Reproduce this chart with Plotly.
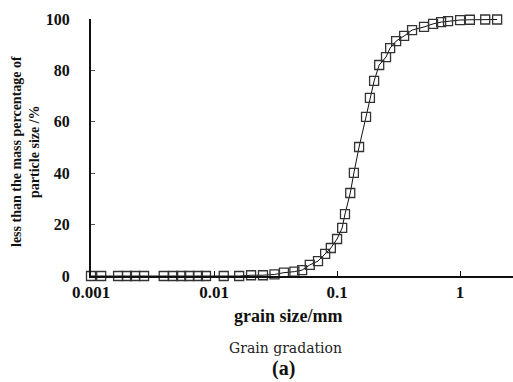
import plotly.graph_objects as go

grain_size_mm = [0.001, 0.00121, 0.00166, 0.00196, 0.00228, 0.0027, 0.0039, 0.00465,
                 0.0054, 0.0063, 0.0074, 0.0086, 0.012, 0.016, 0.020, 0.025, 0.031,
                 0.037, 0.045, 0.052, 0.060, 0.070, 0.080, 0.089, 0.100, 0.110, 0.116,
                 0.128, 0.137, 0.151, 0.172, 0.185, 0.200, 0.220, 0.250, 0.270, 0.302,
                 0.351, 0.407, 0.509, 0.603, 0.701, 0.798, 1.0, 1.2, 1.6, 2.0]
passing_pct = [0, 0, 0, 0, 0, 0, 0, 0,
               0, 0, 0, 0, 0, 0, 0.3, 0.3, 0.6,
               1.3, 1.7, 2.3, 4.3, 5.8, 8.6, 10.9, 14.4, 18.7, 24.1,
               32.3, 40.1, 50.2, 61.9, 69.3, 75.9, 82.1, 85.2, 88.7, 91.4,
               93.4, 95.7, 96.9, 98.1, 98.8, 99.2, 99.6, 99.7, 99.8, 99.8]

x_ticks = [0.001, 0.01, 0.1, 1]
x_tick_labels = ["0.001", "0.01", "0.1", "1"]
y_ticks = [0, 20, 40, 60, 80, 100]

L, T, W, H = 91, 19, 513, 382
B = 276

def px(x):
    return (x - L) / (W - L)

def py(y):
    return (B - y) / (B - T)

fig = go.Figure()
fig.add_trace(go.Scatter(
    x=grain_size_mm, y=passing_pct, mode="lines+markers",
    line=dict(color="#111111", width=1),
    marker=dict(symbol="square-open", size=9, color="#333333", line=dict(width=1.3)),
    cliponaxis=False, showlegend=False,
))

serif = "Liberation Serif, Times New Roman, serif"
fig.update_layout(
    width=W, height=H, margin=dict(l=L, r=0, t=T, b=H - B),
    paper_bgcolor="white", plot_bgcolor="white",
    font=dict(family=serif, color="#111111"),
    xaxis=dict(type="log", range=[-3, 0.43], tickvals=x_ticks, ticktext=x_tick_labels,
               showgrid=False, zeroline=False, showline=True, linecolor="#111111",
               linewidth=2, ticks="inside", ticklen=5, tickwidth=1, tickcolor="#111111",
               tickfont=dict(family=serif, size=17, weight="bold", color="#111111"),
               ticklabelstandoff=0),
    yaxis=dict(range=[0, 100], tickvals=y_ticks, showgrid=False, zeroline=False,
               showline=True, linecolor="#111111", linewidth=2, ticks="inside",
               ticklen=4, tickwidth=1, tickcolor="#555555",
               tickfont=dict(family=serif, size=16, weight="bold", color="#111111"),
               ticklabelstandoff=16),
)

def note(text, x, y, size, family=serif, weight="bold", color="#111111", angle=0):
    fig.add_annotation(text=text, xref="paper", yref="paper", x=px(x), y=py(y),
                       xanchor="center", yanchor="middle", showarrow=False,
                       textangle=angle,
                       font=dict(family=family, size=size, weight=weight, color=color))

note("grain size/mm", 288, 316, 18)
note("less than the mass percentage of<br>particle size /%", 26, 152, 14, angle=-90)
note("Grain gradation", 285, 348, 14, family="DejaVu Serif, serif", weight="normal",
     color="#222222")
note("(a)", 283, 368, 20)

fig.write_html("out.html")
